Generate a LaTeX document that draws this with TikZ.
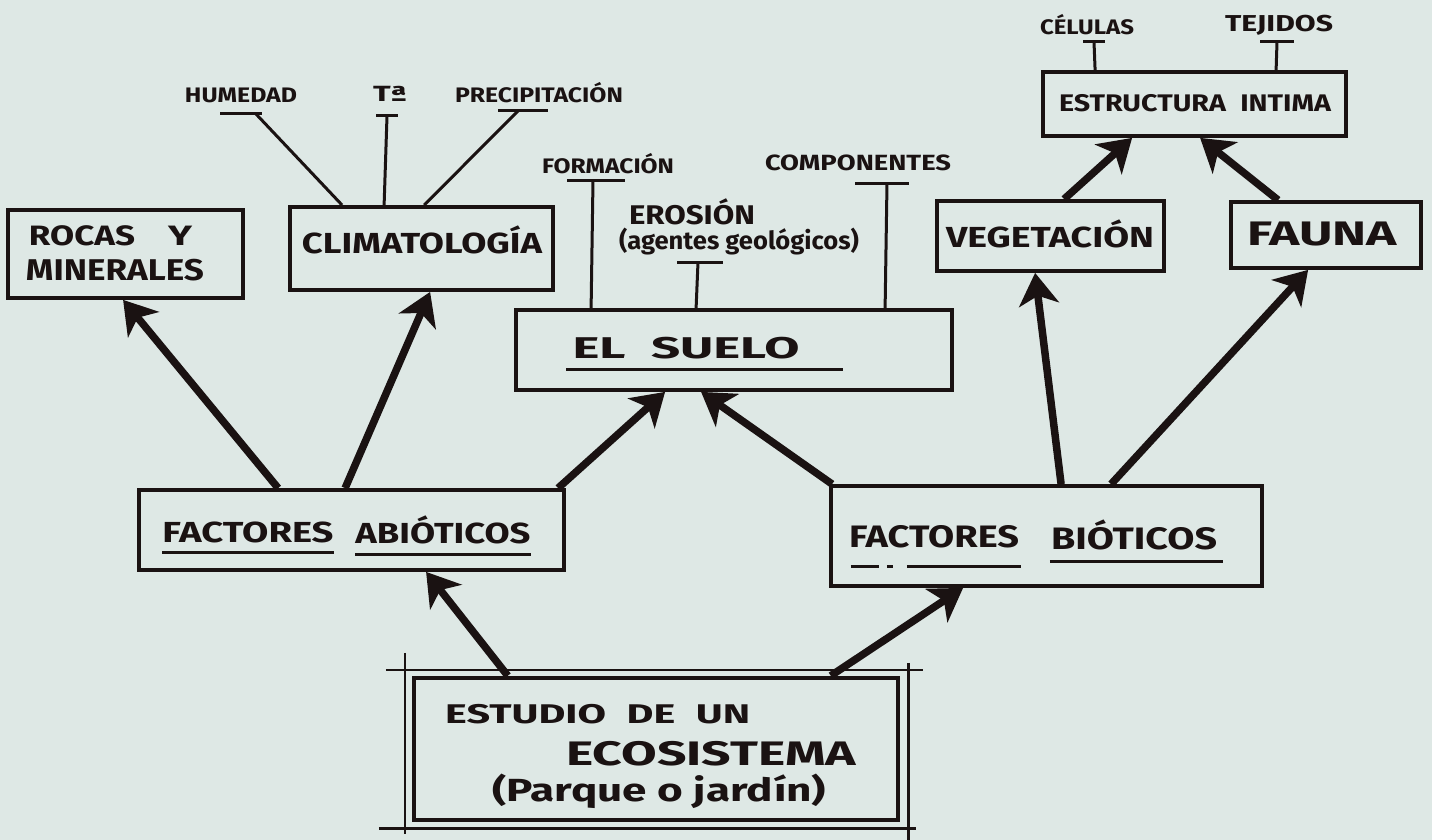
\documentclass[tikz,border=0pt]{standalone}
\usepackage{fontspec}
\usepackage{graphicx}
\setmainfont{Fira Sans}
\usetikzlibrary{arrows.meta,calc}
\definecolor{paper}{RGB}{222,232,229}
\definecolor{ink}{RGB}{26,18,18}
% stretch or squeeze a text horizontally to a given width, keeping its height
\newcommand{\fh}[2]{\resizebox{#1}{\height}{#2}}
\tikzset{
  box/.style={draw=ink, line width=3.8pt, inner sep=0pt},
  txt/.style={text=ink, inner sep=0pt, font=\bfseries\fontsize{#1}{#1}\selectfont},
  txt/.default=29,
  fat/.style={draw=ink, line width=7.5pt, -{Stealth[length=32pt,width=40pt,inset=9pt]}},
  thin/.style={draw=ink, line width=3pt},
  uline/.style={draw=ink, line width=3pt},
  frame/.style={draw=ink, line width=2.5pt}
}
\begin{document}
\begin{tikzpicture}[x=1pt,y=-1pt]
\fill[paper] (0,0) rectangle (1432,840);
\useasboundingbox (0,0) rectangle (1432,840);

% ---------- boxes ----------
\node[box, minimum width=235pt, minimum height=88pt] (rocas) at (125.5,254) {};
\node[box, minimum width=263pt, minimum height=83pt] (clima) at (421.5,248.5) {};
\node[box, minimum width=436pt, minimum height=80pt] (suelo) at (734,350) {};
\node[box, minimum width=227pt, minimum height=70pt] (veg) at (1050.5,236) {};
\node[box, minimum width=190pt, minimum height=66pt] (fauna) at (1326,235) {};
\node[box, minimum width=303pt, minimum height=64pt] (estr) at (1194.5,104) {};
\node[box, minimum width=425pt, minimum height=80pt] (abio) at (351.5,530) {};
\node[box, minimum width=431pt, minimum height=100pt] (bio) at (1046.5,536) {};
\node[box, line width=4.5pt, minimum width=484pt, minimum height=142pt] (est) at (656,749) {};

% sketchy outer frame of the main box
\coordinate (fTL) at ($(est.north west)+(-26,-6)$);
\coordinate (fTR) at ($(est.north east)+(23,-6)$);
\coordinate (fBL) at ($(est.south west)+(-33,6)$);
\coordinate (fBR) at ($(est.south east)+(16,6)$);
\draw[frame] (fTL) -- (fTR);
\draw[frame] (fBL) -- (fBR);
\coordinate (vL1) at ($(est.north west)+(-7,-23)$);
\coordinate (vL2) at ($(est.south west)+(-7,12)$);
\coordinate (vR1) at ($(est.north east)+(8,-13)$);
\coordinate (vR2) at ($(est.south east)+(8,22)$);
\draw[frame] (vL1) -- (vL2);
\draw[frame] (vR1) -- (vR2);

% ---------- texts in boxes ----------
\node[txt=28] (troc) at (82,236) {\fh{106pt}{ROCAS}};
\node[txt=28] (ty) at (180,236) {\fh{24pt}{Y}};
\node[txt=30] (tmin) at (115,270) {\fh{178pt}{MINERALES}};
\node[txt=29] (tclima) at (422,240) {\fh{240pt}{CLIMATOLOGÍA}};
\node[txt=30] (tsuelo) at (686,348) {\fh{227pt}{EL\enspace SUELO}};
\draw[uline] ($(tsuelo.south west)+(-6,10)$) -- ($(tsuelo.south east)+(43,10)$);
\node[txt=29] (tveg) at (1050,234) {\fh{208pt}{VEGETACIÓN}};
\node[txt=34] (tfauna) at (1322,234) {\fh{150pt}{FAUNA}};
\node[txt=24] (testr) at (1195,103) {\fh{272pt}{ESTRUCTURA\enspace INTIMA}};

\node[txt=29] (tfa) at (248,532) {\fh{171pt}{FACTORES}};
\node[txt=29] (tab) at (443,530) {\fh{175pt}{ABIÓTICOS}};
\draw[uline] ($(tfa.south west)+(0,10)$) -- ($(tfa.south east)+(0,10)$);
\draw[uline] ($(tab.south west)+(0,10)$) -- ($(tab.south east)+(0,10)$);

\node[txt=31] (tfb) at (934,537) {\fh{170pt}{FACTORES}};
\node[txt=31] (tbi) at (1134,535) {\fh{166pt}{BIÓTICOS}};
\draw[uline, dash pattern=on 28pt off 8pt on 6pt off 14pt on 200pt] ($(tfb.south west)+(2,18)$) -- ($(tfb.south east)+(2,18)$);
\draw[uline] ($(tbi.south west)+(-1,11)$) -- ($(tbi.south east)+(6,11)$);

\node[txt=27, anchor=west] (te1) at (445,714) {\fh{305pt}{ESTUDIO\enspace DE\enspace UN}};
\node[txt=34, anchor=west] (te2) at (566,754) {\fh{290pt}{ECOSISTEMA}};
\node[txt=32, anchor=west] (te3) at (492,791) {\fh{334pt}{(Parque o jardín)}};

% ---------- small labels with T connectors ----------
\node[txt=21] (lhum) at (241,95) {\fh{112pt}{HUMEDAD}};
\node[txt=22] (ltem) at (390,94) {\fh{34pt}{Tª}};
\node[txt=21] (lpre) at (539,93) {\fh{168pt}{PRECIPITACIÓN}};
\node[txt=21] (lfor) at (608,164) {\fh{132pt}{FORMACIÓN}};
\node[txt=27] (lero) at (692,212) {\fh{126pt}{EROSIÓN}};
\node[txt=25] (lage) at (739,242) {\fh{240pt}{(agentes geológicos)}};
\node[txt=22] (lcom) at (858,163) {\fh{186pt}{COMPONENTES}};
\node[txt=21] (lcel) at (1087,25) {\fh{94pt}{CÉLULAS}};
\node[txt=23] (ltej) at (1279,25) {\fh{108pt}{TEJIDOS}};

\coordinate (bhum) at (241,114);
\coordinate (btem) at (387,116);
\coordinate (bpre) at (523,111);
\coordinate (bfor) at (596,180);
\coordinate (bero) at (700,262);
\coordinate (bcom) at (882,183);
\coordinate (bcel) at (1094,42);
\coordinate (btej) at (1277,42);

\draw[thin] ($(bhum)+(-21,0)$) -- ($(bhum)+(21,0)$);
\draw[thin] ($(btem)+(-11,0)$) -- ($(btem)+(11,0)$);
\draw[thin] ($(bpre)+(-25,0)$) -- ($(bpre)+(25,0)$);
\draw[thin] ($(bfor)+(-29,0)$) -- ($(bfor)+(29,0)$);
\draw[thin] ($(bero)+(-23,0)$) -- ($(bero)+(23,0)$);
\draw[thin] ($(bcom)+(-27,0)$) -- ($(bcom)+(27,0)$);
\draw[thin] ($(bcel)+(-11,0)$) -- ($(bcel)+(11,0)$);
\draw[thin] ($(btej)+(-17,0)$) -- ($(btej)+(17,0)$);

\draw[thin] ($(bhum)+(15,0)$) -- ($(clima.north west)+(54,0)$);
\draw[thin] (btem) -- ($(clima.north west)+(96,0)$);
\draw[thin] ($(bpre)+(-5,0)$) -- ($(clima.north west)+(136,0)$);
\draw[thin] ($(bfor)+(-3,0)$) -- ($(suelo.north west)+(77,0)$);
\draw[thin] ($(bero)+(-2,0)$) -- ($(suelo.north west)+(182,0)$);
\draw[thin] ($(bcom)+(5,0)$) -- ($(suelo.north west)+(371,0)$);
\draw[thin] (bcel) -- ($(estr.north west)+(54,0)$);
\draw[thin] (btej) -- ($(estr.north west)+(235,0)$);

% ---------- thick arrows ----------
\draw[fat] ($(abio.north west)+(141,0)$) -- ($(rocas.south west)+(117,0)$);
\draw[fat] ($(abio.north west)+(208,0)$) -- ($(clima.south west)+(142,0)$);
\draw[fat] ($(abio.north west)+(421,0)$) -- ($(suelo.south west)+(151,0)$);
\draw[fat] ($(bio.north west)+(3,0)$) -- ($(suelo.south west)+(187,0)$);
\draw[fat] ($(bio.north west)+(232,0)$) -- ($(veg.south west)+(100,0)$);
\draw[fat] ($(bio.north west)+(282,0)$) -- ($(fauna.south west)+(79,0)$);
\draw[fat] ($(veg.north west)+(129,0)$) -- ($(estr.south west)+(91,0)$);
\draw[fat] ($(fauna.north west)+(49,0)$) -- ($(estr.south west)+(159,0)$);
\draw[fat] ($(est.north west)+(96,0)$) -- ($(abio.south west)+(289,0)$);
\draw[fat] ($(est.north west)+(419,0)$) -- ($(bio.south west)+(134,0)$);
\end{tikzpicture}
\end{document}
